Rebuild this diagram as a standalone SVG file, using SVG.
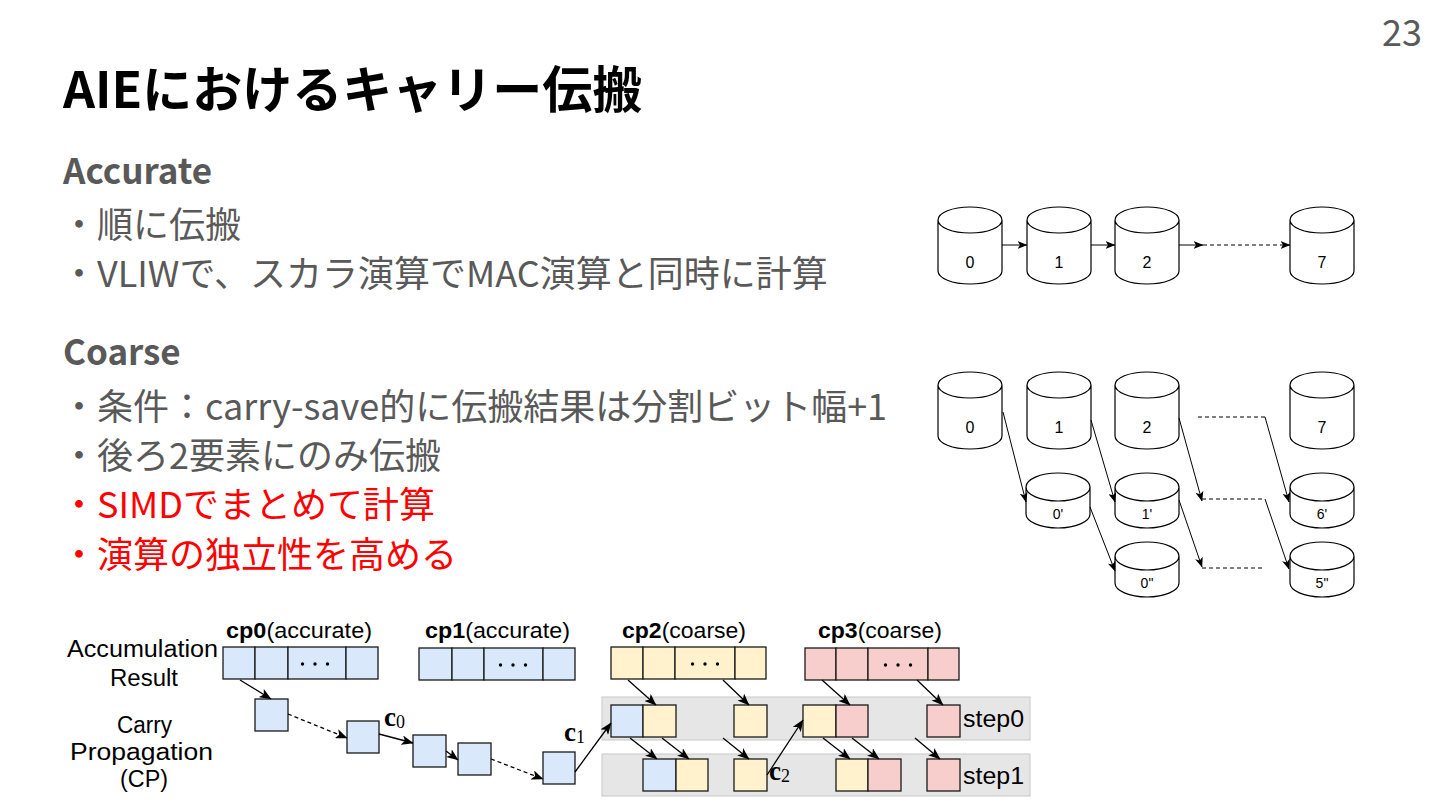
<svg xmlns="http://www.w3.org/2000/svg" xmlns:xlink="http://www.w3.org/1999/xlink" width="1440" height="810" viewBox="0 0 1440 810">
<style>
.title{font-family:"Noto Sans CJK JP","Noto Sans",sans-serif;font-weight:700;font-size:50px;fill:#000}
.head{font-family:"Noto Sans CJK JP","Noto Sans",sans-serif;font-weight:700;font-size:35px;fill:#595959}
.bul{font-family:"Noto Sans CJK JP","Noto Sans",sans-serif;font-size:36px;fill:#595959}
.red{fill:#ff0000}
.pg{font-family:"Noto Sans CJK JP","Noto Sans",sans-serif;font-size:36px;fill:#595959}
.cyl{fill:#fff;stroke:#000;stroke-width:1.2}
.cl{font-family:"Liberation Sans",Arial,sans-serif;font-size:16px;fill:#000;text-anchor:middle}
.cls{font-family:"Liberation Sans",Arial,sans-serif;font-size:14px;fill:#000;text-anchor:middle}
.ln{fill:none;stroke:#000;stroke-width:1}
.lnb{fill:none;stroke:#000;stroke-width:1.3}
.dash{stroke-dasharray:4 3}
.lb{font-family:"Liberation Sans",Arial,sans-serif;font-size:23px;fill:#000}
.cp{font-size:22px}
.bd{font-weight:700}
.blue{fill:#dae8fc;stroke:#1a1a1a;stroke-width:1.3}
.yel{fill:#fff2cc;stroke:#1a1a1a;stroke-width:1.3}
.pink{fill:#f8cecc;stroke:#1a1a1a;stroke-width:1.3}
.band{fill:#e6e6e6;stroke:#c8c8c8;stroke-width:1}
.dot{fill:#000}
.mth{font-family:"Liberation Serif","DejaVu Serif",serif;fill:#000}
</style>
<defs>
<marker id="ah" viewBox="0 0 10 8" refX="9.5" refY="4" markerWidth="10" markerHeight="8" markerUnits="userSpaceOnUse" orient="auto">
<path d="M0,0 L10,4 L0,8 L2.5,4 Z" fill="#000"/>
</marker>
<marker id="ahb" viewBox="0 0 10 8" refX="9.5" refY="4" markerWidth="12" markerHeight="9.6" markerUnits="userSpaceOnUse" orient="auto">
<path d="M0,0 L10,4 L0,8 L2.5,4 Z" fill="#000"/>
</marker>
<path id="cylB" class="cyl" d="M0,13 A32,13 0 0 1 64,13 L64,64 A32,13 0 0 1 0,64 Z M0,13 A32,13 0 0 0 64,13"/>
<path id="cylS" class="cyl" d="M0,14 A32,14 0 0 1 64,14 L64,41 A32,14 0 0 1 0,41 Z M0,14 A32,14 0 0 0 64,14"/>
<g id="dots3"><circle cx="-12.5" cy="0" r="1.7" class="dot"/><circle cx="0" cy="0" r="1.7" class="dot"/><circle cx="12.5" cy="0" r="1.7" class="dot"/></g>
</defs>

<rect width="1440" height="810" fill="#fff"/>

<text class="pg" x="1422" y="46" text-anchor="end">23</text>
<text class="title" x="63" y="108">AIEにおけるキャリー伝搬</text>
<text class="head" x="63" y="184">Accurate</text>
<text class="bul" x="61" y="238">・順に伝搬</text>
<text class="bul" x="61" y="287">・VLIWで、スカラ演算でMAC演算と同時に計算</text>
<text class="head" x="63" y="365">Coarse</text>
<text class="bul" x="61" y="420">・条件：carry-save的に伝搬結果は分割ビット幅+1</text>
<text class="bul" x="61" y="469">・後ろ2要素にのみ伝搬</text>
<text class="bul red" x="61" y="518">・SIMDでまとめて計算</text>
<text class="bul red" x="61" y="568">・演算の独立性を高める</text>

<!-- Accurate cylinders -->
<g id="acc0"><use xlink:href="#cylB" x="938" y="207"/><text class="cl" x="970" y="268">0</text></g>
<g id="acc1"><use xlink:href="#cylB" x="1027" y="207"/><text class="cl" x="1059" y="268">1</text></g>
<g id="acc2"><use xlink:href="#cylB" x="1115" y="207"/><text class="cl" x="1147" y="268">2</text></g>
<g id="acc7"><use xlink:href="#cylB" x="1290" y="207"/><text class="cl" x="1322" y="268">7</text></g>

<!-- Coarse cylinders -->
<g id="co0"><use xlink:href="#cylB" x="938" y="372"/><text class="cl" x="970" y="433">0</text></g>
<g id="co1"><use xlink:href="#cylB" x="1027" y="372"/><text class="cl" x="1059" y="433">1</text></g>
<g id="co2"><use xlink:href="#cylB" x="1115" y="372"/><text class="cl" x="1147" y="433">2</text></g>
<g id="co7"><use xlink:href="#cylB" x="1290" y="372"/><text class="cl" x="1322" y="433">7</text></g>
<g id="co0p"><use xlink:href="#cylS" x="1026" y="473"/><text class="cls" x="1058" y="519">0'</text></g>
<g id="co1p"><use xlink:href="#cylS" x="1115" y="473"/><text class="cls" x="1147" y="519">1'</text></g>
<g id="co6p"><use xlink:href="#cylS" x="1290" y="473"/><text class="cls" x="1322" y="519">6'</text></g>
<g id="co0pp"><use xlink:href="#cylS" x="1115" y="542"/><text class="cls" x="1147" y="588">0"</text></g>
<g id="co5pp"><use xlink:href="#cylS" x="1290" y="542"/><text class="cls" x="1322" y="588">5"</text></g>

<!-- Bottom diagram nodes -->
<g id="labels">
<text class="lb" x="142.5" y="657" text-anchor="middle" textLength="151" lengthAdjust="spacingAndGlyphs">Accumulation</text>
<text class="lb" x="144" y="686" text-anchor="middle" textLength="68" lengthAdjust="spacingAndGlyphs">Result</text>
<text class="lb" x="144.5" y="733" text-anchor="middle" textLength="55" lengthAdjust="spacingAndGlyphs">Carry</text>
<text class="lb" x="141.5" y="760" text-anchor="middle" textLength="143" lengthAdjust="spacingAndGlyphs">Propagation</text>
<text class="lb" x="144" y="787" text-anchor="middle" textLength="48" lengthAdjust="spacingAndGlyphs">(CP)</text>
</g>

<g id="band0"><rect class="band" x="602" y="697" width="428" height="43"/><text class="lb" x="963" y="727" textLength="61" lengthAdjust="spacingAndGlyphs">step0</text></g>
<g id="band1"><rect class="band" x="602" y="754" width="428" height="42"/><text class="lb" x="963" y="784" textLength="61" lengthAdjust="spacingAndGlyphs">step1</text></g>

<g id="cp0">
<text class="lb cp" x="226" y="638" textLength="146" lengthAdjust="spacingAndGlyphs"><tspan class="bd">cp0</tspan>(accurate)</text>
<rect class="blue" x="223" y="647" width="32" height="32"/><rect class="blue" x="255" y="647" width="33" height="32"/><rect class="blue" x="288" y="647" width="58" height="32"/><rect class="blue" x="346" y="647" width="32" height="32"/>
<use xlink:href="#dots3" x="315" y="664"/>
</g>
<g id="cp1">
<text class="lb cp" x="425" y="638" textLength="145" lengthAdjust="spacingAndGlyphs"><tspan class="bd">cp1</tspan>(accurate)</text>
<rect class="blue" x="419" y="648" width="33" height="32"/><rect class="blue" x="452" y="648" width="32" height="32"/><rect class="blue" x="484" y="648" width="59" height="32"/><rect class="blue" x="543" y="648" width="32" height="32"/>
<use xlink:href="#dots3" x="513" y="665"/>
</g>
<g id="cp2">
<text class="lb cp" x="622" y="638" textLength="124" lengthAdjust="spacingAndGlyphs"><tspan class="bd">cp2</tspan>(coarse)</text>
<rect class="yel" x="611" y="647" width="32" height="32"/><rect class="yel" x="643" y="647" width="32" height="32"/><rect class="yel" x="675" y="647" width="60" height="32"/><rect class="yel" x="735" y="647" width="31" height="32"/>
<use xlink:href="#dots3" x="705" y="664"/>
</g>
<g id="cp3">
<text class="lb cp" x="818" y="638" textLength="124" lengthAdjust="spacingAndGlyphs"><tspan class="bd">cp3</tspan>(coarse)</text>
<rect class="pink" x="805" y="648" width="31" height="32"/><rect class="pink" x="836" y="648" width="32" height="32"/><rect class="pink" x="868" y="648" width="60" height="32"/><rect class="pink" x="928" y="648" width="31" height="32"/>
<use xlink:href="#dots3" x="898" y="665"/>
</g>

<g id="cpbox1"><rect class="blue" x="255" y="699" width="33" height="32"/></g>
<g id="cpbox2"><rect class="blue" x="347" y="721" width="32" height="32"/></g>
<g id="cpbox3"><rect class="blue" x="413" y="735" width="33" height="32"/></g>
<g id="cpbox4"><rect class="blue" x="458" y="743" width="33" height="32"/></g>
<g id="cpbox5"><rect class="blue" x="543" y="752" width="32" height="32"/></g>

<g id="s0boxes">
<rect class="blue" x="611" y="705" width="32" height="32"/><rect class="yel" x="643" y="705" width="33" height="32"/>
<rect class="yel" x="734" y="705" width="33" height="32"/>
<rect class="yel" x="803" y="705" width="33" height="32"/><rect class="pink" x="836" y="705" width="32" height="32"/>
<rect class="pink" x="927" y="705" width="33" height="32"/>
</g>
<g id="s1boxes">
<rect class="blue" x="643" y="759" width="33" height="32"/><rect class="yel" x="676" y="759" width="32" height="32"/>
<rect class="yel" x="734" y="759" width="33" height="32"/>
<rect class="yel" x="836" y="759" width="32" height="32"/><rect class="pink" x="868" y="759" width="33" height="32"/>
<rect class="pink" x="927" y="759" width="33" height="32"/>
</g>

<g id="carrylabels">
<text class="mth" x="384" y="726"><tspan font-size="27" font-weight="700">c</tspan><tspan font-size="18" dy="2">0</tspan></text>
<text class="mth" x="564" y="741"><tspan font-size="27" font-weight="700">c</tspan><tspan font-size="18" dy="2">1</tspan></text>
<text class="mth" x="769" y="780"><tspan font-size="27" font-weight="700">c</tspan><tspan font-size="18" dy="2">2</tspan></text>
</g>

<g id="connectors">
<!-- accurate -->
<path class="ln" d="M1002,245 L1027,245" marker-end="url(#ah)"/>
<path class="ln" d="M1091,245 L1115,245" marker-end="url(#ah)"/>
<path class="ln" d="M1179,245 L1203,245" marker-end="url(#ah)"/>
<path class="ln dash" d="M1203,245 L1290,245" marker-end="url(#ah)"/>
<!-- coarse -->
<path class="ln" d="M1003,412 L1026,502" marker-end="url(#ah)"/>
<path class="ln" d="M1091,420 L1115,502" marker-end="url(#ah)"/>
<path class="ln" d="M1179,418 L1202,501" marker-end="url(#ah)"/>
<path class="ln dash" d="M1198,417 L1265,417"/>
<path class="ln" d="M1265,417 L1289,502" marker-end="url(#ah)"/>
<path class="ln" d="M1090,507 L1115,571" marker-end="url(#ah)"/>
<path class="ln" d="M1179,500 L1202,567" marker-end="url(#ah)"/>
<path class="ln dash" d="M1202,499 L1265,499"/>
<path class="ln" d="M1265,499 L1289,569" marker-end="url(#ah)"/>
<path class="ln dash" d="M1202,568 L1265,568"/>
<!-- bottom -->
<path class="lnb" d="M240,680 L271,699" marker-end="url(#ahb)"/>
<path class="lnb dash" d="M288,714 L347,738" marker-end="url(#ahb)"/>
<path class="lnb" d="M379,734 L413,743" marker-end="url(#ahb)"/>
<path class="lnb" d="M446,751 L458,760" marker-end="url(#ahb)"/>
<path class="lnb dash" d="M491,759 L543,779" marker-end="url(#ahb)"/>
<path class="lnb" d="M575,772 L611,723" marker-end="url(#ahb)"/>
<path class="lnb" d="M628,680 L656,705" marker-end="url(#ahb)"/>
<path class="lnb" d="M723,680 L749,705" marker-end="url(#ahb)"/>
<path class="lnb" d="M630,738 L657,759" marker-end="url(#ahb)"/>
<path class="lnb" d="M662,738 L689,759" marker-end="url(#ahb)"/>
<path class="lnb" d="M723,738 L749,759" marker-end="url(#ahb)"/>
<path class="lnb" d="M767,775 L803,720" marker-end="url(#ahb)"/>
<path class="lnb" d="M822,680 L850,705" marker-end="url(#ahb)"/>
<path class="lnb" d="M917,680 L943,705" marker-end="url(#ahb)"/>
<path class="lnb" d="M823,738 L850,759" marker-end="url(#ahb)"/>
<path class="lnb" d="M852,738 L879,759" marker-end="url(#ahb)"/>
<path class="lnb" d="M915,738 L940,759" marker-end="url(#ahb)"/>
</g>
</svg>
